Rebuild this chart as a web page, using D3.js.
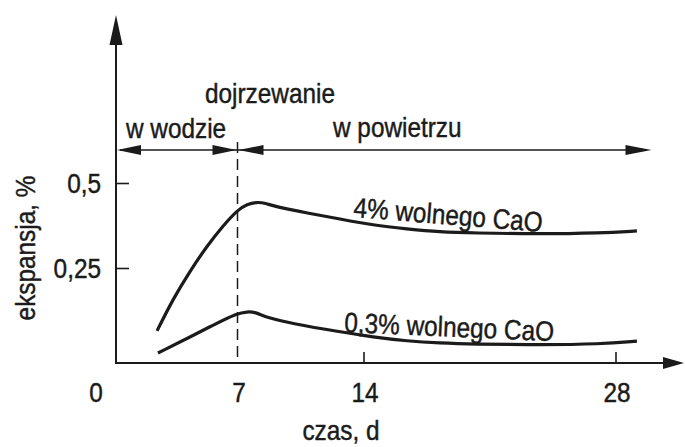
<!DOCTYPE html>
<html>
<head>
<meta charset="utf-8">
<script src="https://cdn.jsdelivr.net/npm/d3@7"></script>
<style>
  body { margin: 0; background: #fff; }
  svg text { font-family: "Liberation Sans", Arial, sans-serif; fill: #1b1b1b; stroke: #1b1b1b; stroke-width: 0.45px; }
</style>
</head>
<body>
<script>
// dane
var dni4 = [2.53, 3.42, 4.36, 5.31, 6.19, 7.03, 7.53, 8.08, 8.53, 9.19, 10.86, 12.69, 14.53, 16.42, 18.25, 20.08, 23.81, 27.14, 29.19];
var eksp4 = [0.065, 0.159, 0.241, 0.315, 0.374, 0.422, 0.438, 0.444, 0.441, 0.429, 0.412, 0.394, 0.376, 0.365, 0.356, 0.353, 0.350, 0.353, 0.359];

var dni03 = [2.58, 4.36, 5.64, 7.03, 7.53, 7.97, 8.69, 9.92, 12.69, 14.53, 16.42, 18.25, 20.08, 23.81, 27.14, 29.19];
var eksp03 = [0.000, 0.047, 0.082, 0.118, 0.121, 0.121, 0.103, 0.088, 0.062, 0.047, 0.035, 0.029, 0.026, 0.024, 0.026, 0.035];

var xTicks = [0, 7, 14, 28];
var yTicks = [0.25, 0.5];
var yTickLabels = ["0,25", "0,5"];

var width = 685,
    height = 447;

var sx = 0.87; // zwezenie kroju (brak kroju waskiego)

var svg = d3.select("body").append("svg")
    .attr("width", width)
    .attr("height", height);

var x = d3.scaleLinear().domain([7, 28]).range([237.5, 615.5]);
var y = d3.scaleLinear().domain([0.25, 0.5]).range([268, 183]);

var axisY0 = 363,        // linia osi x
    axisX0 = x(0) + 4.5, // linia osi y
    arrowY = 150;

function arrowHead(tx, ty, dx, dy, len, half) {
  // trojkat grotu, czubek w (tx,ty), kierunek (dx,dy)
  var bx = tx - dx * len, by = ty - dy * len;
  var px = -dy * half, py = dx * half;
  return "M" + tx + "," + ty + "L" + (bx + px) + "," + (by + py) + "L" + (bx - px) + "," + (by - py) + "Z";
}

function label(tx, ty, rot, txt, anchor) {
  return svg.append("text")
      .attr("transform", "translate(" + tx + "," + ty + ") rotate(" + rot + ") scale(" + sx + ",1)")
      .attr("text-anchor", anchor || "start")
      .attr("font-size", 28)
      .text(txt);
}

var ink = "#1b1b1b";

// osie
svg.append("line")
    .attr("x1", axisX0).attr("y1", axisY0)
    .attr("x2", width - 8).attr("y2", axisY0)
    .attr("stroke", ink).attr("stroke-width", 2);
svg.append("path").attr("d", arrowHead(width - 1, axisY0, 1, 0, 21, 6)).attr("fill", ink);

svg.append("line")
    .attr("x1", axisX0).attr("y1", axisY0 + 1)
    .attr("x2", axisX0).attr("y2", 30)
    .attr("stroke", ink).attr("stroke-width", 2);
svg.append("path").attr("d", arrowHead(axisX0, 15, 0, -1, 30, 6.5)).attr("fill", ink);

// podzialka x
var gx = svg.append("g")
    .attr("transform", "translate(0," + axisY0 + ")")
    .call(d3.axisBottom(x).tickValues(xTicks).tickFormat(function(d) { return d; })
      .tickSize(-11).tickPadding(19));
gx.select(".domain").remove();
gx.selectAll(".tick line")
    .attr("stroke", ink).attr("stroke-width", 1.6)
    .attr("display", function(d) { return (d == 0 || d == 7) ? "none" : null; });
gx.selectAll(".tick text")
    .attr("font-size", 28).attr("font-family", null).attr("fill", ink)
    .attr("transform", "scale(" + sx + ",1)")
    .attr("x", function(d) { return (d == 0 ? -16 : 1) / sx; });

// podzialka y
var gy = svg.append("g")
    .attr("transform", "translate(" + axisX0 + ",0)")
    .call(d3.axisLeft(y).tickValues(yTicks)
      .tickFormat(function(d, i) { return yTickLabels[i]; })
      .tickSize(-13).tickPadding(15));
gy.select(".domain").remove();
gy.selectAll(".tick line").attr("stroke", ink).attr("stroke-width", 1.6);
gy.selectAll(".tick text")
    .attr("font-size", 28).attr("font-family", null).attr("fill", ink)
    .attr("transform", "scale(" + sx + ",1)")
    .attr("x", -15 / sx)
    .attr("dy", "0.34em");

// linia przerywana w dniu 7
svg.append("line")
    .attr("x1", x(7)).attr("y1", 142)
    .attr("x2", x(7)).attr("y2", axisY0)
    .attr("stroke", ink).attr("stroke-width", 1.5)
    .attr("stroke-dasharray", "11,6");

// strzalki dojrzewania
svg.append("line")
    .attr("x1", axisX0 + 4).attr("y1", arrowY)
    .attr("x2", x(30) - 6).attr("y2", arrowY)
    .attr("stroke", ink).attr("stroke-width", 1.6);
svg.append("path").attr("d", arrowHead(axisX0 + 1, arrowY, -1, 0, 24, 5)).attr("fill", ink);
svg.append("path").attr("d", arrowHead(x(7) - 1, arrowY, 1, 0, 24, 5)).attr("fill", ink);
svg.append("path").attr("d", arrowHead(x(7) + 1, arrowY, -1, 0, 25, 5)).attr("fill", ink);
svg.append("path").attr("d", arrowHead(x(30), arrowY, 1, 0, 26, 5)).attr("fill", ink);

// krzywe
var line = d3.line()
    .x(function(d) { return x(d[0]); })
    .y(function(d) { return y(d[1]); })
    .curve(d3.curveBasis);

svg.append("path")
    .datum(d3.zip(dni4, eksp4))
    .attr("d", line)
    .attr("fill", "none").attr("stroke", ink).attr("stroke-width", 3.2);

svg.append("path")
    .datum(d3.zip(dni03, eksp03))
    .attr("d", line)
    .attr("fill", "none").attr("stroke", ink).attr("stroke-width", 3.2);

// napisy
label(205, 103, 0, "dojrzewanie");
label(126, 138, 0, "w wodzie");
label(333, 137, 0, "w powietrzu");
label(353, 217, 4.5, "4% wolnego CaO");
label(344, 332, 2.5, "0,3% wolnego CaO");
label(341, 440, 0, "czas, d", "middle");
label(35, 248, -90, "ekspansja, %", "middle");
</script>
</body>
</html>
